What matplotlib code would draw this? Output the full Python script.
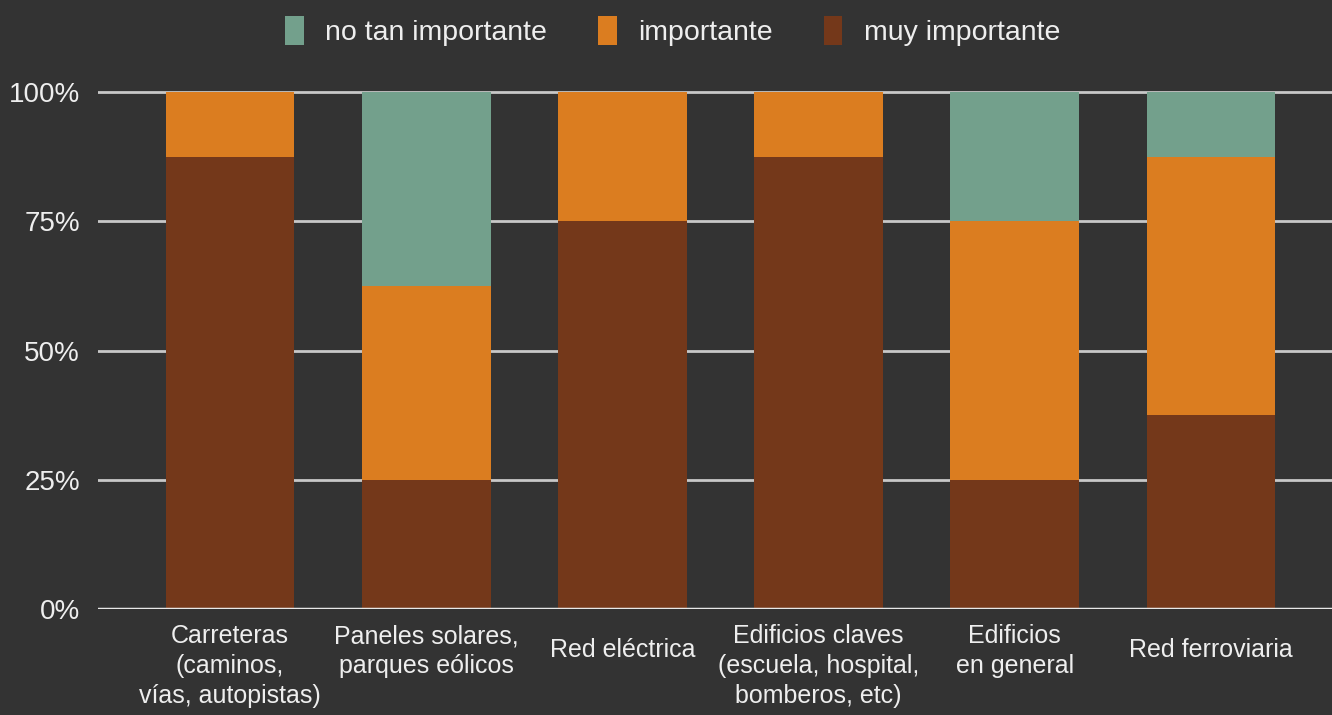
import matplotlib.pyplot as plt
import matplotlib.transforms as mtransforms
import numpy as np

plt.rcParams['font.family'] = ['Liberation Sans', 'DejaVu Sans']

categories = ["Carreteras\n(caminos,\nvías, autopistas)",
              "Paneles solares,\nparques eólicos",
              "Red eléctrica",
              "Edificios claves\n(escuela, hospital,\nbomberos, etc)",
              "Edificios\nen general",
              "Red ferroviaria"]
muy_importante = [87.5, 25.0, 75.0, 87.5, 25.0, 37.5]
importante = [12.5, 37.5, 25.0, 12.5, 50.0, 50.0]
no_tan_importante = [0.0, 37.5, 0.0, 0.0, 25.0, 12.5]
yticks = [0, 25, 50, 75, 100]
ytick_labels = ["0%", "25%", "50%", "75%", "100%"]

bg = '#333333'
txt = '#eeeeee'
c_muy = '#74381a'
c_imp = '#db7d20'
c_no = '#73a08c'

fig = plt.figure(figsize=(13.32, 7.15), dpi=100, facecolor=bg)
ax = fig.add_axes([98/1332, 1 - 609/715, 1 - 98/1332, (609 - 87)/715])
ax.set_facecolor(bg)

x = np.arange(len(categories))
w = 0.657
muy = np.array(muy_importante)
imp = np.array(importante)
no = np.array(no_tan_importante)
ax.bar(x, muy, w, color=c_muy, label='muy importante', zorder=3)
ax.bar(x, imp, w, bottom=muy, color=c_imp, label='importante', zorder=3)
ax.bar(x, no, w, bottom=muy + imp, color=c_no, label='no tan importante', zorder=3)

ax.set_xlim(-0.673, 5.617)
ax.set_ylim(0, 101)
ax.set_yticks(yticks)
ax.set_yticklabels(ytick_labels)
ax.set_xticks(x)
ax.set_xticklabels(categories, linespacing=1.3)
ax.tick_params(axis='y', length=0, pad=13, labelsize=20, labelcolor=txt)
ax.tick_params(axis='x', length=0, pad=11, labelsize=18, labelcolor=txt)
# single-line labels sit half a line lower
for lab in ax.get_xticklabels():
    if '\n' not in lab.get_text():
        lab.set_transform(lab.get_transform() +
                          mtransforms.ScaledTranslation(0, -0.14, fig.dpi_scale_trans))
for yv in yticks[1:]:
    ax.axhline(yv, color='#c8c8c8', lw=2, zorder=1)
ax.axhline(0, color='#e8e8e8', lw=2.5, zorder=4)
for s in ax.spines.values():
    s.set_visible(False)

h, l = ax.get_legend_handles_labels()
leg = fig.legend(h[::-1], l[::-1], loc='center', bbox_to_anchor=(0.505, 1 - 31/715),
                 ncol=3, frameon=False, fontsize=20.5, labelcolor=txt,
                 handlelength=0.65, handleheight=1.2, handletextpad=0.75,
                 columnspacing=1.8)

fig.savefig('out.png', dpi=100, facecolor=bg)
